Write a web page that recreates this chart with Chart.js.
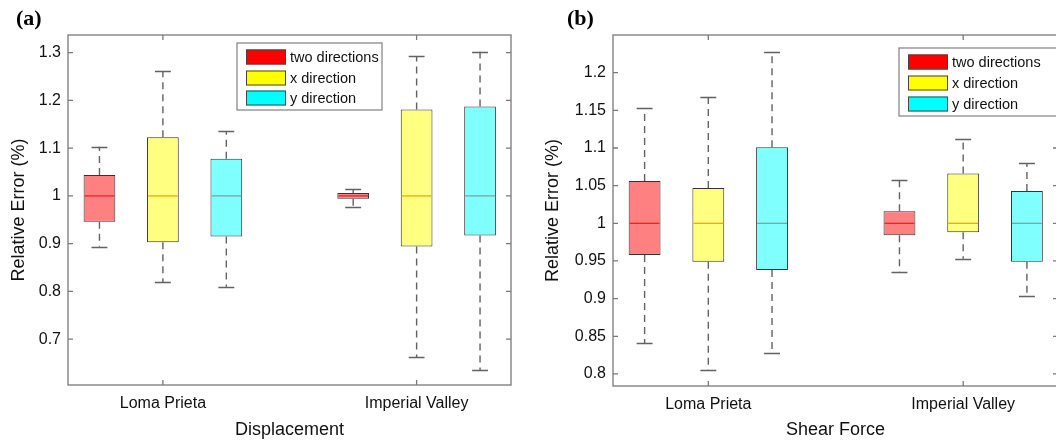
<!DOCTYPE html>
<html>
<head>
<meta charset="utf-8">
<title>Relative error box plots</title>
<script src="https://cdn.jsdelivr.net/npm/chart.js@4.4.1/dist/chart.umd.min.js"></script>
<style>
  html, body { margin: 0; padding: 0; background: #fff; width: 1056px; height: 446px; overflow: hidden; }
  .panel { position: absolute; top: 0; }
  .tag { position: absolute; top: 5px; font: bold 22px "Liberation Serif", "Times New Roman", serif; color: #000; }
</style>
</head>
<body>
<div class="panel" style="left:0"><canvas id="chartA" width="530" height="446"></canvas></div>
<div class="panel" style="left:530px"><canvas id="chartB" width="530" height="446"></canvas></div>
<div class="tag" style="left:16px">(a)</div>
<div class="tag" style="left:567px">(b)</div>

<script>
// earthquake records on the x axis
const groups = ['Loma Prieta', 'Imperial Valley'];
const seriesNames = ['two directions', 'x direction', 'y direction'];

// each box: [lower whisker, q1, median, q3, upper whisker], one per record
const dispTwo = [[0.894, 0.946, 1.0, 1.044, 1.103], [0.976, 0.994, 1.0, 1.006, 1.014]];
const dispX   = [[0.819, 0.903, 1.0, 1.123, 1.261], [0.662, 0.894, 1.0, 1.181, 1.293]];
const dispY   = [[0.810, 0.915, 1.0, 1.078, 1.135], [0.635, 0.917, 1.0, 1.187, 1.302]];

const shearTwo = [[0.841, 0.958, 1.0, 1.056, 1.153], [0.936, 0.984, 1.0, 1.016, 1.058]];
const shearX   = [[0.805, 0.949, 1.0, 1.047, 1.168], [0.953, 0.988, 1.0, 1.066, 1.112]];
const shearY   = [[0.828, 0.938, 1.0, 1.101, 1.228], [0.904, 0.949, 1.0, 1.043, 1.080]];

const dispTicks  = [0.7, 0.8, 0.9, 1, 1.1, 1.2, 1.3];
const shearTicks = [0.8, 0.85, 0.9, 0.95, 1, 1.05, 1.1, 1.15, 1.2];

const FONT = '"Liberation Sans", Arial, Helvetica, sans-serif';
const boxFill    = ['#ff8080', '#ffff80', '#80ffff'];
const swatchFill = ['#ff0000', '#ffff00', '#00ffff'];
const medianCol  = ['#f01818', '#ff9a00', '#7f9c9c'];
const offsets    = [-0.25, 0, 0.25];

// whiskers, caps and medians, placed on the bars chart.js already laid out
const boxPlotPlugin = {
  id: 'boxPlot',
  afterDatasetsDraw(chart) {
    const ctx = chart.ctx;
    const y = chart.scales.y;
    chart.data.datasets.forEach((ds, d) => {
      const meta = chart.getDatasetMeta(d);
      meta.data.forEach((bar, i) => {
        const [lo, q1, med, q3, hi] = ds.stats[i];
        const cx = bar.x, half = bar.width / 2, cap = bar.width / 4;
        ctx.save();
        ctx.strokeStyle = '#626262';
        ctx.lineWidth = 1.4;
        ctx.setLineDash([7, 5]);
        ctx.beginPath();
        ctx.moveTo(cx, y.getPixelForValue(q3));
        ctx.lineTo(cx, y.getPixelForValue(hi));
        ctx.moveTo(cx, y.getPixelForValue(q1));
        ctx.lineTo(cx, y.getPixelForValue(lo));
        ctx.stroke();
        ctx.setLineDash([]);
        ctx.beginPath();
        [hi, lo].forEach(v => {
          const py = Math.round(y.getPixelForValue(v)) + 0.5;
          ctx.moveTo(cx - cap, py);
          ctx.lineTo(cx + cap, py);
        });
        ctx.stroke();
        ctx.strokeStyle = medianCol[d];
        ctx.lineWidth = 1.2;
        ctx.beginPath();
        const my = y.getPixelForValue(med);
        ctx.moveTo(cx - half + 1, my);
        ctx.lineTo(cx + half - 1, my);
        ctx.stroke();
        ctx.restore();
      });
    });
  },
  afterDraw(chart, args, opts) {
    const ctx = chart.ctx;
    const area = chart.chartArea;
    const {x, y} = chart.scales;
    ctx.save();
    // axes frame with inward ticks on all four sides
    ctx.strokeStyle = '#7a7a7a';
    ctx.lineWidth = 1.3;
    ctx.strokeRect(area.left, area.top, area.right - area.left, area.bottom - area.top);
    ctx.beginPath();
    y.ticks.forEach(t => {
      const py = y.getPixelForValue(t.value);
      ctx.moveTo(area.left, py); ctx.lineTo(area.left + 5, py);
      ctx.moveTo(area.right, py); ctx.lineTo(area.right - 5, py);
    });
    x.ticks.forEach(t => {
      const px = x.getPixelForValue(t.value);
      ctx.moveTo(px, area.bottom); ctx.lineTo(px, area.bottom - 5);
      ctx.moveTo(px, area.top); ctx.lineTo(px, area.top + 5);
    });
    ctx.stroke();

    // legend box
    const lx = area.left + opts.dx, ly = area.top + opts.dy;
    ctx.fillStyle = '#fff';
    ctx.fillRect(lx, ly, opts.w, opts.h);
    ctx.strokeStyle = '#808080';
    ctx.lineWidth = 1.2;
    ctx.strokeRect(lx, ly, opts.w, opts.h);
    ctx.font = '14.5px ' + FONT;
    ctx.textBaseline = 'middle';
    chart.data.datasets.forEach((ds, d) => {
      const cy = ly + opts.rows[d];
      ctx.fillStyle = swatchFill[d];
      ctx.fillRect(lx + 9, cy - 7.5, 40, 15);
      ctx.strokeStyle = '#444';
      ctx.lineWidth = 1;
      ctx.strokeRect(lx + 9.5, cy - 7, 39, 14);
      ctx.fillStyle = '#111';
      ctx.fillText(ds.label, lx + 53, cy + 1);
    });
    ctx.restore();
  }
};

function makeDatasets(seriesList) {
  return seriesList.map((stats, s) => ({
    label: seriesNames[s],
    stats: stats,
    data: stats.map((b, g) => ({ x: g + 1 + offsets[s], y: [b[1], b[3]] })),
    backgroundColor: boxFill[s],
    borderColor: '#333',
    borderWidth: 1,
    borderSkipped: false,
    grouped: false,
    categoryPercentage: 1,
    barPercentage: 0.5
  }));
}

function makeChart(id, seriesList, tickList, yMin, yMax, xTitle, yWidth, xHeight, rightPad, yTitlePad, legend) {
  return new Chart(document.getElementById(id), {
    type: 'bar',
    data: { datasets: makeDatasets(seriesList) },
    plugins: [boxPlotPlugin],
    options: {
      responsive: false,
      animation: false,
      layout: { padding: { left: 0, top: 35, right: rightPad, bottom: 0 } },
      plugins: {
        legend: { display: false },
        tooltip: { enabled: false },
        boxPlot: legend
      },
      scales: {
        x: {
          type: 'linear',
          offset: false,
          min: 0.626,
          max: 2.372,
          afterBuildTicks: s => { s.ticks = groups.map((g, i) => ({ value: i + 1 })); },
          afterFit: s => { s.height = xHeight; },
          ticks: {
            callback: v => groups[Math.round(v) - 1] || '',
            font: { size: 16, family: FONT },
            color: '#111',
            padding: 9,
            autoSkip: false,
            maxRotation: 0
          },
          grid: { display: false, drawTicks: false, offset: false },
          border: { display: false },
          title: {
            display: true,
            text: xTitle,
            font: { size: 18, family: FONT },
            color: '#111',
            padding: { top: 0, bottom: 5 }
          }
        },
        y: {
          min: yMin,
          max: yMax,
          afterBuildTicks: s => { s.ticks = tickList.map(v => ({ value: v })); },
          afterFit: s => { s.width = yWidth; },
          ticks: {
            callback: v => String(v),
            font: { size: 16, family: FONT },
            color: '#111',
            padding: 7,
            autoSkip: false
          },
          grid: { display: false, drawTicks: false },
          border: { display: false },
          title: {
            display: true,
            text: 'Relative Error (%)',
            font: { size: 18, family: FONT },
            color: '#111',
            padding: { top: yTitlePad, bottom: 0 }
          }
        }
      }
    }
  });
}

makeChart('chartA', [dispTwo, dispX, dispY], dispTicks, 0.604, 1.337, 'Displacement',
  68, 61, 19, 8, { dx: 169, dy: 8, w: 145, h: 67, rows: [14, 35, 55] });
makeChart('chartB', [shearTwo, shearX, shearY], shearTicks, 0.784, 1.25, 'Shear Force',
  83, 60, 2, 12, { dx: 286, dy: 13, w: 165, h: 68, rows: [14, 35, 56] });
</script>
</body>
</html>
